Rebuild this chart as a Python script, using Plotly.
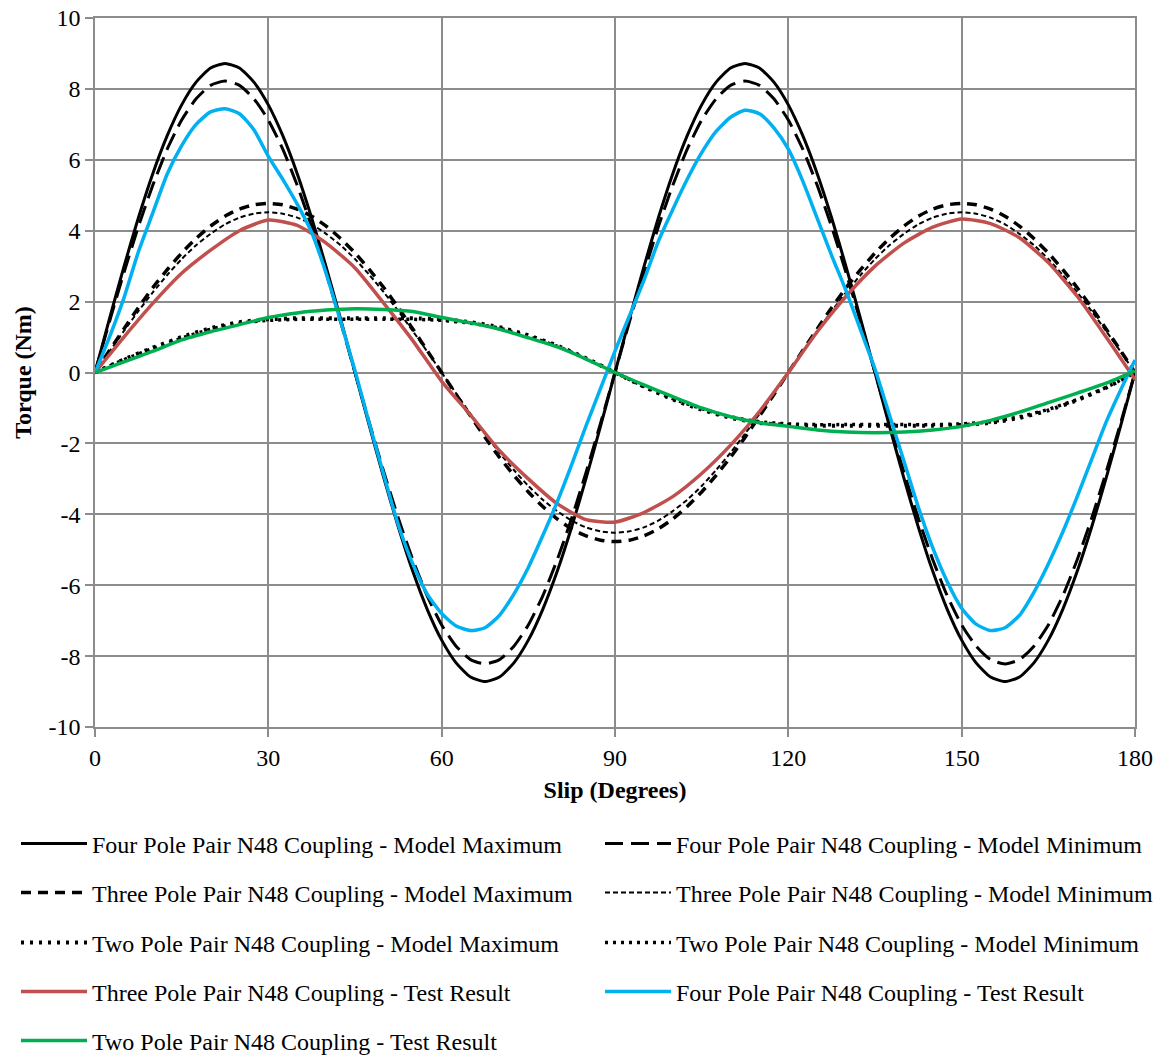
import plotly.graph_objects as go

# ---- data -------------------------------------------------------------
x_fine = [i * 2.5 for i in range(73)]     # 0 .. 180 step 2.5
x_coarse = [i * 5 for i in range(37)]     # 0 .. 180 step 5

four_max = [0, 1.51, 2.98, 4.36, 5.61, 6.68, 7.55, 8.19, 8.59, 8.72, 8.59, 8.19, 7.55, 6.68, 5.61, 4.36, 2.98, 1.51,
            0, -1.51, -2.98, -4.36, -5.61, -6.68, -7.55, -8.19, -8.59, -8.72, -8.59, -8.19, -7.55, -6.68, -5.61, -4.36, -2.98, -1.51,
            0, 1.51, 2.98, 4.36, 5.61, 6.68, 7.55, 8.19, 8.59, 8.72, 8.59, 8.19, 7.55, 6.68, 5.61, 4.36, 2.98, 1.51,
            0, -1.51, -2.98, -4.36, -5.61, -6.68, -7.55, -8.19, -8.59, -8.72, -8.59, -8.19, -7.55, -6.68, -5.61, -4.36, -2.98, -1.51, 0]

four_min = [0, 1.43, 2.81, 4.11, 5.28, 6.30, 7.12, 7.72, 8.10, 8.22, 8.10, 7.72, 7.12, 6.30, 5.28, 4.11, 2.81, 1.43,
            0, -1.43, -2.81, -4.11, -5.28, -6.30, -7.12, -7.72, -8.10, -8.22, -8.10, -7.72, -7.12, -6.30, -5.28, -4.11, -2.81, -1.43,
            0, 1.43, 2.81, 4.11, 5.28, 6.30, 7.12, 7.72, 8.10, 8.22, 8.10, 7.72, 7.12, 6.30, 5.28, 4.11, 2.81, 1.43,
            0, -1.43, -2.81, -4.11, -5.28, -6.30, -7.12, -7.72, -8.10, -8.22, -8.10, -7.72, -7.12, -6.30, -5.28, -4.11, -2.81, -1.43, 0]

three_max = [0, 0.62, 1.23, 1.83, 2.39, 2.90, 3.37, 3.78, 4.13, 4.41, 4.61, 4.73, 4.77,
             4.73, 4.61, 4.41, 4.13, 3.78, 3.37, 2.90, 2.39, 1.83, 1.23, 0.62, 0,
             -0.62, -1.23, -1.83, -2.39, -2.90, -3.37, -3.78, -4.13, -4.41, -4.61, -4.73, -4.77,
             -4.73, -4.61, -4.41, -4.13, -3.78, -3.37, -2.90, -2.39, -1.83, -1.23, -0.62, 0,
             0.62, 1.23, 1.83, 2.39, 2.90, 3.37, 3.78, 4.13, 4.41, 4.61, 4.73, 4.77,
             4.73, 4.61, 4.41, 4.13, 3.78, 3.37, 2.90, 2.39, 1.83, 1.23, 0.62, 0]

three_min = [0, 0.59, 1.17, 1.73, 2.26, 2.75, 3.20, 3.59, 3.91, 4.18, 4.37, 4.48, 4.52,
             4.48, 4.37, 4.18, 3.91, 3.59, 3.20, 2.75, 2.26, 1.73, 1.17, 0.59, 0,
             -0.59, -1.17, -1.73, -2.26, -2.75, -3.20, -3.59, -3.91, -4.18, -4.37, -4.48, -4.52,
             -4.48, -4.37, -4.18, -3.91, -3.59, -3.20, -2.75, -2.26, -1.73, -1.17, -0.59, 0,
             0.59, 1.17, 1.73, 2.26, 2.75, 3.20, 3.59, 3.91, 4.18, 4.37, 4.48, 4.52,
             4.48, 4.37, 4.18, 3.91, 3.59, 3.20, 2.75, 2.26, 1.73, 1.17, 0.59, 0]

two_max = [0, 0.37, 0.70, 1.00, 1.25, 1.42, 1.50, 1.53, 1.53, 1.53, 1.53, 1.53, 1.50, 1.42, 1.28, 1.05, 0.76, 0.40,
           0, -0.40, -0.76, -1.05, -1.28, -1.42, -1.48, -1.50, -1.50, -1.50, -1.50, -1.50, -1.48, -1.42, -1.28, -1.07, -0.78, -0.43, 0]

two_min = [0, 0.36, 0.68, 0.97, 1.22, 1.39, 1.47, 1.50, 1.50, 1.50, 1.50, 1.50, 1.47, 1.39, 1.25, 1.02, 0.74, 0.39,
           0, -0.39, -0.74, -1.02, -1.25, -1.39, -1.45, -1.47, -1.47, -1.47, -1.47, -1.47, -1.45, -1.39, -1.25, -1.04, -0.76, -0.42, 0]

three_test = [0, 1.00, 1.95, 2.80, 3.45, 4.00, 4.30, 4.15, 3.65, 2.95, 1.95, 0.90, -0.25, -1.20, -2.20, -3.00, -3.70, -4.15, -4.22,
              -3.95, -3.50, -2.85, -2.05, -1.10, 0.00, 1.15, 2.15, 3.00, 3.65, 4.10, 4.33, 4.20, 3.80, 3.10, 2.15, 1.00, -0.20]

four_test = [0, 1.00, 2.10, 3.40, 4.50, 5.60, 6.40, 7.00, 7.35, 7.44, 7.30, 6.85, 6.10, 5.45, 4.75, 3.95, 2.80, 1.45,
             0.05, -1.45, -2.90, -4.30, -5.40, -6.25, -6.80, -7.15, -7.28, -7.20, -6.85, -6.25, -5.50, -4.60, -3.65, -2.60, -1.50, -0.45,
             0.60, 1.60, 2.60, 3.70, 4.60, 5.45, 6.20, 6.80, 7.20, 7.40, 7.30, 6.90, 6.30, 5.40, 4.35, 3.30, 2.30, 1.20,
             0.10, -1.20, -2.50, -3.80, -4.95, -5.90, -6.65, -7.10, -7.28, -7.20, -6.85, -6.20, -5.40, -4.50, -3.50, -2.45, -1.40, -0.50, 0.35]

two_test = [0, 0.30, 0.60, 0.92, 1.15, 1.35, 1.55, 1.68, 1.76, 1.80, 1.78, 1.72, 1.55, 1.40, 1.22, 0.98, 0.72, 0.38, 0.00,
            -0.35, -0.68, -1.00, -1.25, -1.42, -1.52, -1.62, -1.68, -1.70, -1.68, -1.62, -1.52, -1.35, -1.12, -0.85, -0.58, -0.30, 0.05]

y_ticks = [-10, -8, -6, -4, -2, 0, 2, 4, 6, 8, 10]
y_tick_labels = ["-10", "-8", "-6", "-4", "-2", "0", "2", "4", "6", "8", "10"]
x_ticks = [0, 30, 60, 90, 120, 150, 180]

# ---- figure -----------------------------------------------------------
FONT = "Liberation Serif, Times New Roman, serif"
BLUE = "#00B0F0"
RED = "#C0504D"
GREEN = "#00B050"

# the page body adds an 8px margin, so the figure is 8px smaller each way
W, H = 1156, 1047
ML, MR, MT, MB = 87, 29, 10, 328
PLOT_W = W - ML - MR
PLOT_H = H - MT - MB

# (name, x, y, colour, width, dash, legend column, legend row)
traces = [
    ("Four Pole Pair N48 Coupling - Model Maximum", x_fine, four_max, "black", 3, "solid", 0, 0),
    ("Four Pole Pair N48 Coupling - Model Minimum", x_fine, four_min, "black", 3, "18px,8px", 1, 0),
    ("Three Pole Pair N48 Coupling - Model Maximum", x_fine, three_max, "black", 3.5, "10px,7px", 0, 1),
    ("Three Pole Pair N48 Coupling - Model Minimum", x_fine, three_min, "black", 2, "5px,3px", 1, 1),
    ("Two Pole Pair N48 Coupling - Model Maximum", x_coarse, two_max, "black", 4, "3px,6px", 0, 2),
    ("Two Pole Pair N48 Coupling - Model Minimum", x_coarse, two_min, "black", 3.5, "3px,5px", 1, 2),
    ("Three Pole Pair N48 Coupling - Test Result", x_coarse, three_test, RED, 3.5, "solid", 0, 3),
    ("Four Pole Pair N48 Coupling - Test Result", x_fine, four_test, BLUE, 3.5, "solid", 1, 3),
    ("Two Pole Pair N48 Coupling - Test Result", x_coarse, two_test, GREEN, 3.5, "solid", 0, 4),
]

col_px = [8, 592]                   # legend box left edge (figure px)
row_px = [836, 885, 935, 984, 1033]  # legend row centre (figure px)

fig = go.Figure()
for i, (name, xs, ys, color, width, dash, col, row) in enumerate(traces):
    lname = "legend" if i == 0 else f"legend{i + 1}"
    fig.add_trace(go.Scatter(
        x=xs, y=ys, mode="lines", name=name, legend=lname,
        line=dict(color=color, width=width, dash=dash, shape="spline", smoothing=0.6),
    ))
    fig.update_layout({lname: dict(
        orientation="v", x=(col_px[col] - ML) / PLOT_W, xanchor="left",
        y=(H - MB - row_px[row]) / PLOT_H, yanchor="middle",
        itemwidth=66,
        font=dict(family=FONT, size=24, color="black"),
        bgcolor="rgba(0,0,0,0)",
    )})

GRID = "#8C8C8C"
fig.update_layout(
    width=W, height=H,
    margin=dict(l=ML, r=MR, t=MT, b=MB, autoexpand=False),
    paper_bgcolor="white", plot_bgcolor="white",
    font=dict(family=FONT, size=24, color="black"),
    xaxis=dict(
        range=[0, 180], tickvals=x_ticks, showgrid=True, gridcolor=GRID, gridwidth=1.5,
        showline=True, linecolor=GRID, linewidth=1.5, mirror=True,
        ticks="outside", ticklen=8, tickcolor=GRID, tickwidth=1.5, zeroline=False,
        tickfont=dict(family=FONT, size=24, color="black"), ticklabeloverflow="allow",
        title=dict(text="<b>Slip (Degrees)</b>", font=dict(family=FONT, size=24, color="black"), standoff=12),
        automargin=False,
    ),
    yaxis=dict(
        range=[-10, 10], tickvals=y_ticks, ticktext=y_tick_labels, showgrid=True, gridcolor=GRID, gridwidth=1.5,
        showline=True, linecolor=GRID, linewidth=1.5, mirror=True,
        ticks="outside", ticklen=8, tickcolor=GRID, tickwidth=1.5, zeroline=False,
        tickfont=dict(family=FONT, size=24, color="black"), ticklabeloverflow="allow",
        title=dict(text="<b>Torque (Nm)</b>", font=dict(family=FONT, size=24, color="black"), standoff=10),
        automargin=False,
    ),
    showlegend=True,
)

fig.write_html("out.html")
